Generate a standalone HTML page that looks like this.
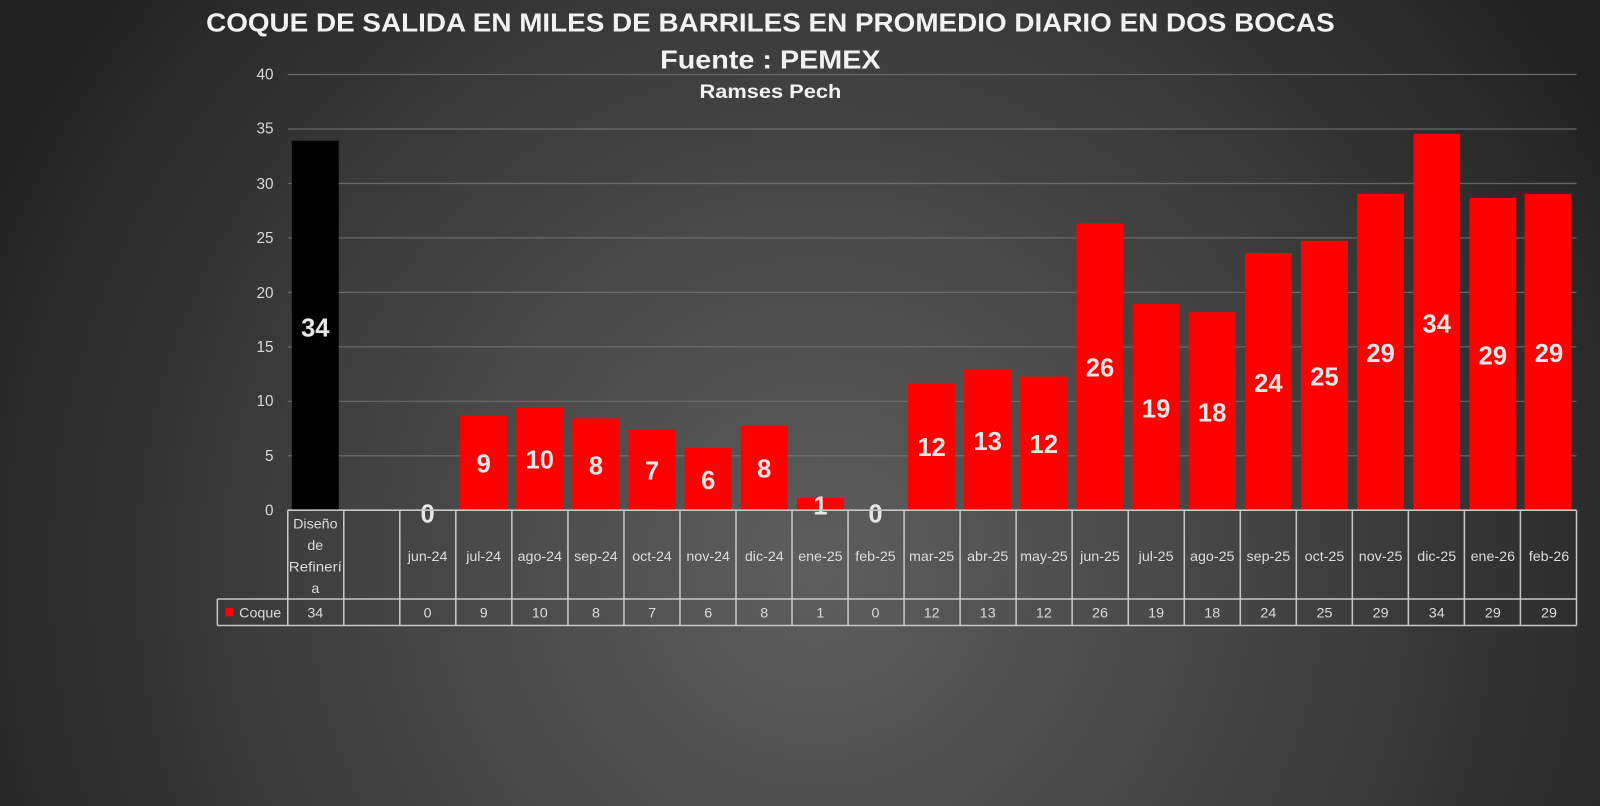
<!DOCTYPE html>
<html><head><meta charset="utf-8"><style>
html,body{margin:0;padding:0;width:1600px;height:806px;overflow:hidden;background:#2a2a2a}
svg{display:block}
text{font-family:"Liberation Sans",sans-serif}
</style></head><body>
<svg width="1600" height="806" viewBox="0 0 1600 806" xmlns="http://www.w3.org/2000/svg">
<defs>
<radialGradient id="bg" cx="800" cy="560" r="900" gradientUnits="userSpaceOnUse">
<stop offset="0" stop-color="#5e5e5e"/><stop offset="0.55" stop-color="#3f3f3f"/><stop offset="1" stop-color="#222"/>
</radialGradient>
</defs>
<g transform="scale(1.0204)">
<rect width="1600" height="806" fill="url(#bg)"/>
<g fill="#f2f2f2" font-weight="bold" text-anchor="middle">
<text x="755" y="31" font-size="25" textLength="1106" lengthAdjust="spacingAndGlyphs">COQUE DE SALIDA EN MILES DE BARRILES EN PROMEDIO DIARIO EN DOS BOCAS</text>
<text x="755" y="67" font-size="25" textLength="216" lengthAdjust="spacingAndGlyphs">Fuente : PEMEX</text>
<text x="755" y="96" font-size="19" textLength="139" lengthAdjust="spacingAndGlyphs">Ramses Pech</text>
</g>
<g stroke="#777" stroke-width="1.2" opacity="0.8">
<line x1="282" x2="1545" y1="73" y2="73"/><line x1="282" x2="1545" y1="126.4" y2="126.4"/>
<line x1="282" x2="1545" y1="179.8" y2="179.8"/><line x1="282" x2="1545" y1="233.1" y2="233.1"/>
<line x1="282" x2="1545" y1="286.5" y2="286.5"/><line x1="282" x2="1545" y1="339.9" y2="339.9"/>
<line x1="282" x2="1545" y1="393.3" y2="393.3"/><line x1="282" x2="1545" y1="446.6" y2="446.6"/>
</g>
<g fill="#d9d9d9" font-size="15" text-anchor="end">
<text x="268" y="78">40</text><text x="268" y="131">35</text><text x="268" y="185">30</text>
<text x="268" y="238">25</text><text x="268" y="292">20</text><text x="268" y="345">15</text>
<text x="268" y="398">10</text><text x="268" y="452">5</text><text x="268" y="505">0</text>
</g>
<rect x="286" y="138" width="46" height="362" fill="#000"/>
<g fill="#ff0000">
<rect x="451" y="407" width="46" height="93"/>
<rect x="506" y="399" width="46" height="101"/>
<rect x="561" y="410" width="46" height="90"/>
<rect x="616" y="421" width="46" height="79"/>
<rect x="671" y="439" width="46" height="61"/>
<rect x="726" y="417" width="46" height="83"/>
<rect x="781" y="488" width="46" height="12"/>
<rect x="890" y="376" width="46" height="124"/>
<rect x="945" y="362" width="46" height="138"/>
<rect x="1000" y="369" width="46" height="131"/>
<rect x="1055" y="219" width="46" height="281"/>
<rect x="1110" y="298" width="46" height="202"/>
<rect x="1165" y="306" width="46" height="194"/>
<rect x="1220" y="248" width="46" height="252"/>
<rect x="1275" y="236" width="46" height="264"/>
<rect x="1330" y="190" width="46" height="310"/>
<rect x="1385" y="131" width="46" height="369"/>
<rect x="1440" y="194" width="46" height="306"/>
<rect x="1494" y="190" width="46" height="310"/>
</g>
<g fill="#e6e6e6" font-size="25" font-weight="bold" text-anchor="middle">
<text x="309" y="330">34</text>
<text x="419" y="512">0</text>
<text x="474" y="463">9</text>
<text x="529" y="459">10</text>
<text x="584" y="465">8</text>
<text x="639" y="470">7</text>
<text x="694" y="479">6</text>
<text x="749" y="468">8</text>
<text x="804" y="504">1</text>
<text x="858" y="512">0</text>
<text x="913" y="447">12</text>
<text x="968" y="441">13</text>
<text x="1023" y="444">12</text>
<text x="1078" y="369">26</text>
<text x="1133" y="409">19</text>
<text x="1188" y="413">18</text>
<text x="1243" y="384">24</text>
<text x="1298" y="378">25</text>
<text x="1353" y="355">29</text>
<text x="1408" y="326">34</text>
<text x="1463" y="357">29</text>
<text x="1518" y="355">29</text>
</g>
<g stroke="#c8c8c8" stroke-width="1.5" fill="none">
<line x1="282" x2="1545" y1="500" y2="500"/>
<line x1="213" x2="1545" y1="587" y2="587"/>
<line x1="213" x2="1545" y1="613" y2="613"/>
<line x1="213" x2="213" y1="587" y2="613"/>
<line x1="282" x2="282" y1="500" y2="613"/><line x1="336.9" x2="336.9" y1="500" y2="613"/>
<line x1="391.8" x2="391.8" y1="500" y2="613"/><line x1="446.7" x2="446.7" y1="500" y2="613"/>
<line x1="501.6" x2="501.6" y1="500" y2="613"/><line x1="556.6" x2="556.6" y1="500" y2="613"/>
<line x1="611.5" x2="611.5" y1="500" y2="613"/><line x1="666.4" x2="666.4" y1="500" y2="613"/>
<line x1="721.3" x2="721.3" y1="500" y2="613"/><line x1="776.2" x2="776.2" y1="500" y2="613"/>
<line x1="831.1" x2="831.1" y1="500" y2="613"/><line x1="886" x2="886" y1="500" y2="613"/>
<line x1="940.9" x2="940.9" y1="500" y2="613"/><line x1="995.8" x2="995.8" y1="500" y2="613"/>
<line x1="1050.7" x2="1050.7" y1="500" y2="613"/><line x1="1105.7" x2="1105.7" y1="500" y2="613"/>
<line x1="1160.6" x2="1160.6" y1="500" y2="613"/><line x1="1215.5" x2="1215.5" y1="500" y2="613"/>
<line x1="1270.4" x2="1270.4" y1="500" y2="613"/><line x1="1325.3" x2="1325.3" y1="500" y2="613"/>
<line x1="1380.2" x2="1380.2" y1="500" y2="613"/><line x1="1435.1" x2="1435.1" y1="500" y2="613"/>
<line x1="1490" x2="1490" y1="500" y2="613"/><line x1="1545" x2="1545" y1="500" y2="613"/>
</g>
<g fill="#dcdcdc" font-size="14" text-anchor="middle">
<text x="309" y="518">Diseño</text><text x="309" y="539">de</text>
<text x="309" y="560" textLength="52" lengthAdjust="spacingAndGlyphs">Refinerí</text><text x="309" y="581">a</text>
<text x="419" y="550">jun-24</text><text x="474" y="550">jul-24</text><text x="529" y="550">ago-24</text>
<text x="584" y="550">sep-24</text><text x="639" y="550">oct-24</text><text x="694" y="550">nov-24</text>
<text x="749" y="550">dic-24</text><text x="804" y="550">ene-25</text><text x="858" y="550">feb-25</text>
<text x="913" y="550">mar-25</text><text x="968" y="550">abr-25</text><text x="1023" y="550">may-25</text>
<text x="1078" y="550">jun-25</text><text x="1133" y="550">jul-25</text><text x="1188" y="550">ago-25</text>
<text x="1243" y="550">sep-25</text><text x="1298" y="550">oct-25</text><text x="1353" y="550">nov-25</text>
<text x="1408" y="550">dic-25</text><text x="1463" y="550">ene-26</text><text x="1518" y="550">feb-26</text>
<text x="309" y="605">34</text><text x="419" y="605">0</text><text x="474" y="605">9</text>
<text x="529" y="605">10</text><text x="584" y="605">8</text><text x="639" y="605">7</text>
<text x="694" y="605">6</text><text x="749" y="605">8</text><text x="804" y="605">1</text>
<text x="858" y="605">0</text><text x="913" y="605">12</text><text x="968" y="605">13</text>
<text x="1023" y="605">12</text><text x="1078" y="605">26</text><text x="1133" y="605">19</text>
<text x="1188" y="605">18</text><text x="1243" y="605">24</text><text x="1298" y="605">25</text>
<text x="1353" y="605">29</text><text x="1408" y="605">34</text><text x="1463" y="605">29</text>
<text x="1518" y="605">29</text>
<text x="255" y="605">Coque</text>
</g>
<rect x="221" y="596" width="8" height="8" fill="#ff0000"/>
</g>
</svg>
</body></html>
